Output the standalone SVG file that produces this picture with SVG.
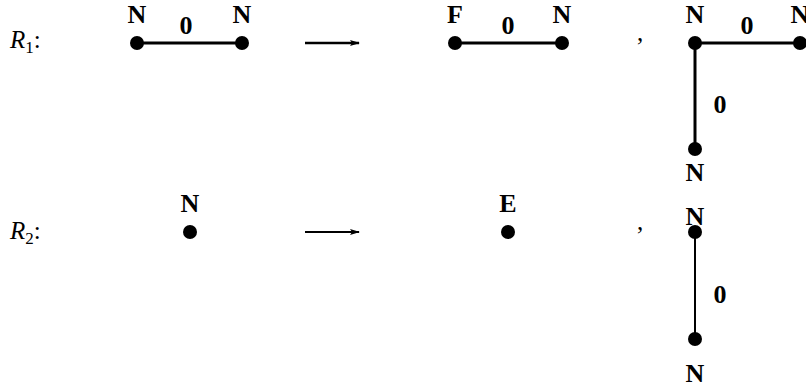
<svg xmlns="http://www.w3.org/2000/svg" width="806" height="389" viewBox="0 0 806 389">
  <style>
    .lbl { font-family: "Liberation Serif", "Times New Roman", serif; font-weight: bold; font-size: 26px; fill: #000; text-anchor: middle; }
    .rule { font-family: "Liberation Serif", "Times New Roman", serif; font-style: italic; font-size: 25px; fill: #000; }
    .sub { font-style: normal; font-size: 17px; }
    .plain { font-family: "Liberation Serif", "Times New Roman", serif; font-style: normal; font-size: 25px; fill: #000; }
    .edge { stroke: #000; stroke-width: 3; fill: none; }
    .edge-thin { stroke: #000; stroke-width: 2; fill: none; }
    .dot { fill: #000; }
  </style>
  <defs>
    <marker id="head" markerWidth="10" markerHeight="8" refX="9" refY="4" orient="auto" markerUnits="userSpaceOnUse">
      <path d="M0,1 L10,4 L0,7 L2,4 Z" fill="#000"/>
    </marker>
  </defs>
  <rect width="806" height="389" fill="#fff"/>

  <!-- rule names -->
  <text class="rule" x="10" y="48">R<tspan class="sub" dy="5">1</tspan><tspan class="plain" dy="-5">:</tspan></text>
  <text class="rule" x="10" y="239">R<tspan class="sub" dy="5">2</tspan><tspan class="plain" dy="-5">:</tspan></text>

  <!-- connectors -->
  <g id="connectors">
    <line class="edge" x1="137" y1="43" x2="242" y2="43"/>
    <line class="edge" x1="455" y1="43" x2="562" y2="43"/>
    <line class="edge" x1="695" y1="43" x2="800" y2="43"/>
    <line class="edge" x1="695" y1="43" x2="695" y2="149"/>
    <line class="edge-thin" x1="695" y1="232" x2="695" y2="339"/>
    <line stroke="#000" stroke-width="2.5" x1="305" y1="43" x2="359" y2="43" marker-end="url(#head)"/>
    <line stroke="#000" stroke-width="2" x1="305" y1="232" x2="359" y2="232" marker-end="url(#head)"/>
  </g>

  <!-- edge weights -->
  <g id="weights">
    <text class="lbl" x="186" y="34">0</text>
    <text class="lbl" x="508" y="34">0</text>
    <text class="lbl" x="747" y="34">0</text>
    <text class="lbl" x="720" y="113">0</text>
    <text class="lbl" x="720" y="303">0</text>
  </g>

  <!-- separators -->
  <text class="plain" x="637" y="41">,</text>
  <text class="plain" x="637" y="230">,</text>

  <!-- R1 left side -->
  <g id="r1-a">
    <circle class="dot" cx="137" cy="43" r="7"/>
    <text class="lbl" x="137" y="23">N</text>
  </g>
  <g id="r1-b">
    <circle class="dot" cx="242" cy="43" r="7"/>
    <text class="lbl" x="242" y="23">N</text>
  </g>

  <!-- R1 first result -->
  <g id="r1-c">
    <circle class="dot" cx="455" cy="43" r="7"/>
    <text class="lbl" x="455" y="23">F</text>
  </g>
  <g id="r1-d">
    <circle class="dot" cx="562" cy="43" r="7"/>
    <text class="lbl" x="562" y="23">N</text>
  </g>

  <!-- R1 second result -->
  <g id="r1-e">
    <circle class="dot" cx="695" cy="43" r="7"/>
    <text class="lbl" x="695" y="23">N</text>
  </g>
  <g id="r1-f">
    <circle class="dot" cx="800" cy="43" r="7"/>
    <text class="lbl" x="800" y="23">N</text>
  </g>
  <g id="r1-g">
    <circle class="dot" cx="695" cy="149" r="7"/>
    <text class="lbl" x="695" y="181">N</text>
  </g>

  <!-- R2 left side -->
  <g id="r2-a">
    <circle class="dot" cx="190" cy="232" r="7"/>
    <text class="lbl" x="190" y="212">N</text>
  </g>

  <!-- R2 first result -->
  <g id="r2-b">
    <circle class="dot" cx="508" cy="232" r="7"/>
    <text class="lbl" x="508" y="212">E</text>
  </g>

  <!-- R2 second result -->
  <g id="r2-c">
    <circle class="dot" cx="695" cy="232" r="7"/>
    <text class="lbl" x="695" y="225">N</text>
  </g>
  <g id="r2-d">
    <circle class="dot" cx="695" cy="339" r="7"/>
    <text class="lbl" x="695" y="382">N</text>
  </g>
</svg>
